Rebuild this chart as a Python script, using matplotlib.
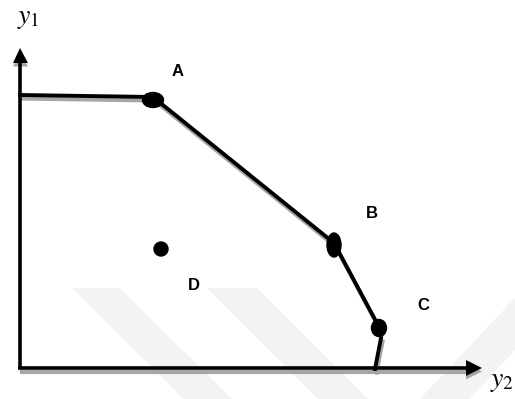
import numpy as np
import matplotlib.pyplot as plt
from matplotlib.patches import Polygon, Ellipse

plt.rcParams['mathtext.fontset'] = 'stix'

# frontier (pixel coordinates of the drawing, y downwards)
front_x = [20, 153, 334, 379]
front_y = [95, 97, 243, 327]
tail_x = [381, 375]
tail_y = [338, 369]

# points A, B, C (ellipses) and D
pts_x = [153, 334, 379]
pts_y = [100, 245, 328]
pts_w = [21, 14, 15]
pts_h = [15, 24, 17]
d_x, d_y = 161, 249

labels = ['A', 'B', 'C', 'D']
lab_x = [178, 372, 423, 194]
lab_y = [72, 213, 305, 285]

# faint watermark stripes
wm = [
    [(72, 288), (120, 288), (232, 399), (184, 399)],
    [(207, 288), (257, 288), (368, 399), (318, 399)],
    [(420, 399), (470, 399), (515, 350), (515, 298)],
]

fig = plt.figure(figsize=(5.15, 3.99), dpi=100)
ax = fig.add_axes([0, 0, 1, 1])
ax.set_xlim(0, 515)
ax.set_ylim(399, 0)
ax.axis('off')

for p in wm:
    ax.add_patch(Polygon(p, closed=True, color='#f3f3f3', lw=0, zorder=0))

shadow = '#a6a6a6'
dx, dy = 1.5, 3.5

# axes with shadows
ax.plot([20 + dx, 466], [368 + dy, 368 + dy], color=shadow, lw=3, zorder=1)
ax.add_patch(Polygon([(13, 63 + dy), (28, 63 + dy), (20, 48 + dy)], color=shadow, lw=0, zorder=1))
ax.add_patch(Polygon([(466, 360 + dy), (466, 376 + dy), (482, 368 + dy)], color=shadow, lw=0, zorder=1))
ax.plot([20, 20], [369, 62], color='black', lw=2.6, zorder=3, solid_capstyle='butt')
ax.plot([18, 467], [368, 368], color='black', lw=2.6, zorder=3, solid_capstyle='butt')
ax.add_patch(Polygon([(13, 63), (28, 63), (20, 48)], color='black', lw=0, zorder=3))
ax.add_patch(Polygon([(466, 360), (466, 376), (482, 368)], color='black', lw=0, zorder=3))

# frontier with shadow
ax.plot(np.array(front_x) + dx, np.array(front_y) + dy, color=shadow, lw=3, zorder=2)
ax.plot(np.array(tail_x) + dx, np.array(tail_y) + dy, color=shadow, lw=3, zorder=2)
ax.plot(front_x, front_y, color='black', lw=2.8, zorder=3)
ax.plot(tail_x, tail_y, color='black', lw=2.8, zorder=3)

for x, y, w, h in zip(pts_x, pts_y, pts_w, pts_h):
    ax.add_patch(Ellipse((x, y), w, h, color='black', zorder=4))
ax.add_patch(Ellipse((d_x, d_y), 14, 14, color='black', zorder=4))

for t, x, y in zip(labels, lab_x, lab_y):
    ax.text(x, y, t, fontsize=12, fontweight='bold', ha='center', va='center',
            family='Liberation Sans', zorder=5)

ax.text(28, 17, '$y_1$', fontsize=20, ha='center', va='center')
ax.text(502, 380, '$y_2$', fontsize=20, ha='center', va='center')

fig.savefig('out.png', dpi=100)
